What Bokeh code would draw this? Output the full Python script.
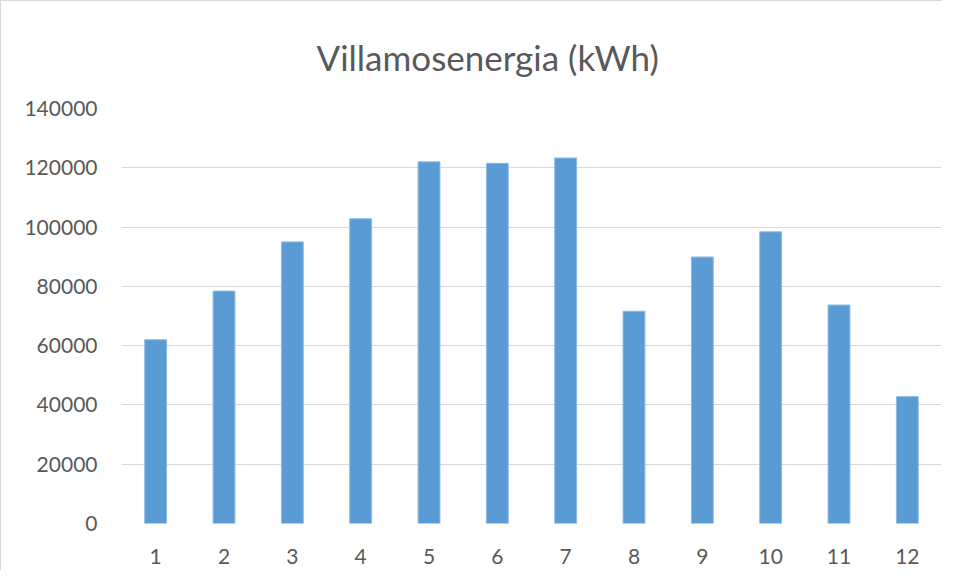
from bokeh.plotting import figure
from bokeh.models import FixedTicker, Range1d, NumeralTickFormatter
from bokeh.embed import file_html
from bokeh.resources import INLINE

months = ["1", "2", "3", "4", "5", "6", "7", "8", "9", "10", "11", "12"]
energy = [62000, 78400, 95000, 102800, 122000, 121500, 123300, 71600, 89900, 98400, 73700, 42800]
y_ticks = [0, 20000, 40000, 60000, 80000, 100000, 120000, 140000]

TEXT = "#595959"
FONT = "Lato"

p = figure(x_range=months, y_range=Range1d(0, 140000), width=942, height=570,
           output_backend="svg", toolbar_location=None,
           min_border_left=120, min_border_right=2, min_border_top=107, min_border_bottom=48,
           title="Villamosenergia (kWh)")

p.vbar(x=months, top=energy, width=0.32, fill_color="#5B9BD5",
       line_color="#8DB9E3", line_width=1)

p.title.text_font = FONT
p.title.text_font_size = "35px"
p.title.text_font_style = "normal"
p.title.text_color = TEXT
p.title.align = "left"
p.title.offset = 195
p.title.standoff = 62

p.yaxis.ticker = FixedTicker(ticks=y_ticks)
p.yaxis.formatter = NumeralTickFormatter(format="0")
for ax in (p.xaxis[0], p.yaxis[0]):
    ax.axis_line_color = None
    ax.major_tick_line_color = None
    ax.minor_tick_line_color = None
    ax.major_label_text_font = FONT
    ax.major_label_text_font_size = "21px"
    ax.major_label_text_color = TEXT
p.yaxis.major_label_standoff = 18
p.xaxis.major_label_standoff = 19

p.xgrid.grid_line_color = None
p.ygrid.grid_line_color = "#D9D9D9"
p.ygrid.grid_line_width = 1
p.outline_line_color = None
p.x_range.range_padding = 0
p.styles = {"border-left": "1px solid #D9D9D9", "border-top": "1px solid #D9D9D9"}

open("out.html", "w").write(file_html(p, INLINE))
